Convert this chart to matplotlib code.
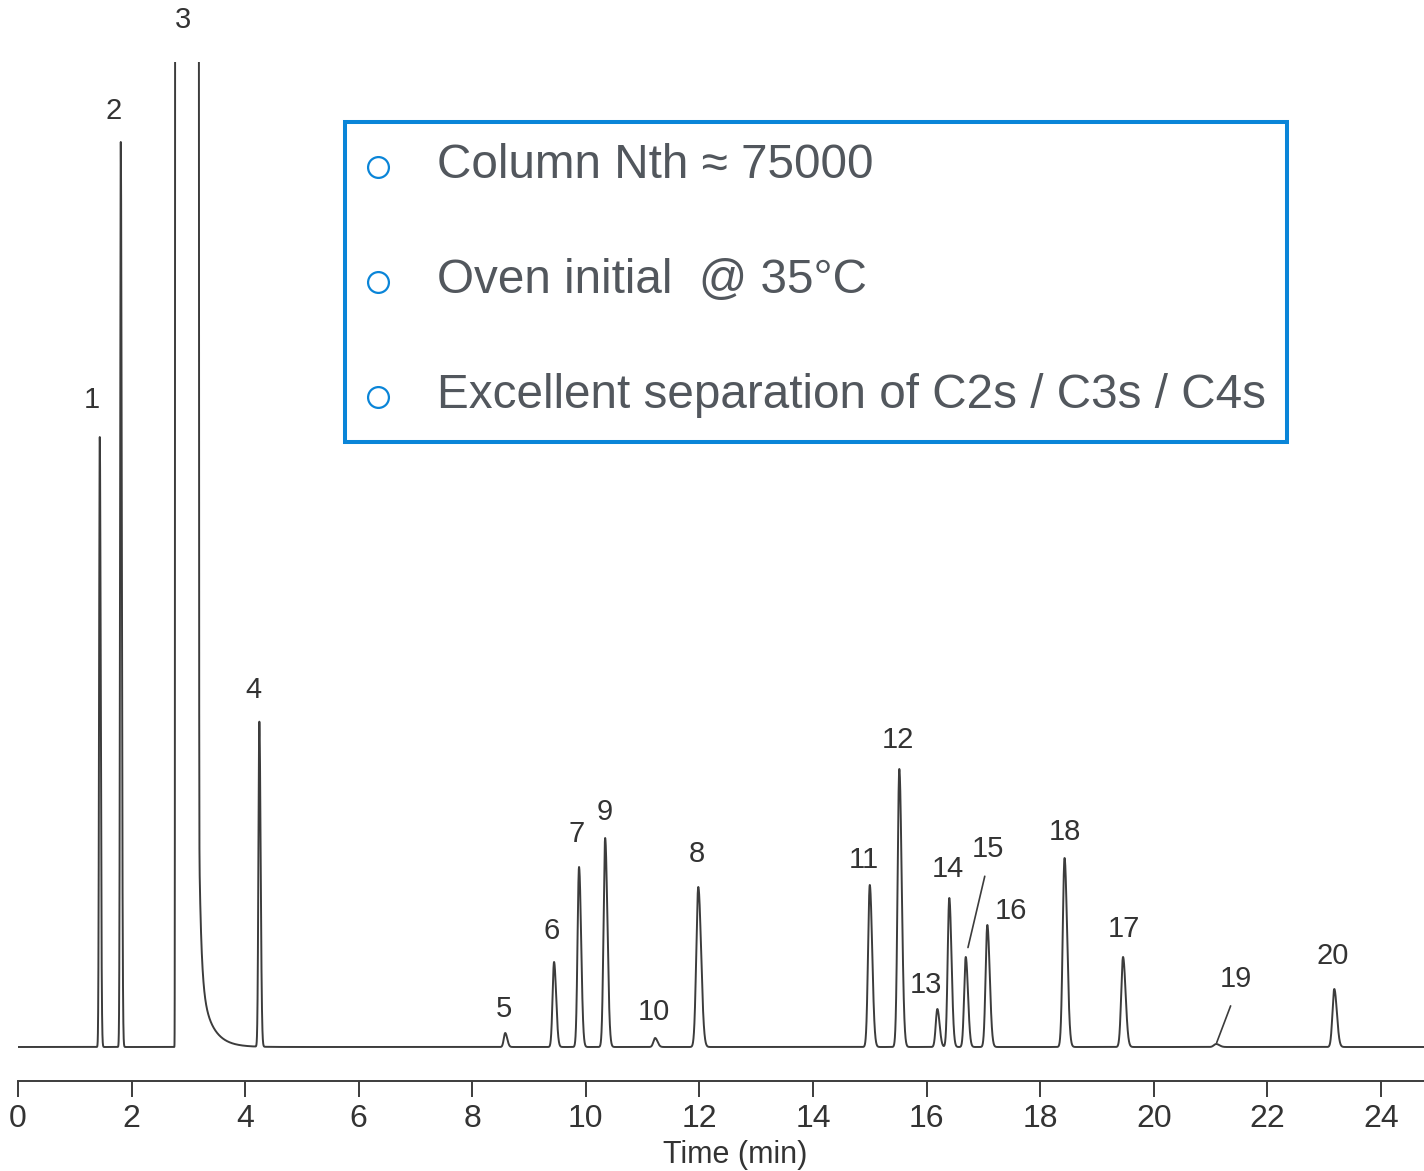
import numpy as np
import matplotlib.pyplot as plt
from matplotlib.patches import Rectangle
from matplotlib.lines import Line2D

plt.rcParams["font.family"] = ["Liberation Sans", "DejaVu Sans"]

# peaks (time in min, height in detector units)
peak_labels = ["1", "2", "4", "5", "6", "7", "9", "10", "8", "11",
               "12", "13", "14", "15", "16", "18", "17", "19", "20"]
peak_times = [1.44, 1.81, 4.25, 8.58, 9.44, 9.88, 10.34, 11.22, 11.98, 15.00,
              15.52, 16.19, 16.40, 16.69, 17.07, 18.43, 19.46, 21.10, 23.18]
peak_heights = [610, 905, 325, 14, 85, 180, 209, 9, 160, 162,
                278, 38, 149, 90, 122, 189, 90, 3, 58]
peak_sigmas = [0.012, 0.012, 0.016, 0.025, 0.026, 0.026, 0.028, 0.03, 0.035, 0.03,
               0.03, 0.028, 0.028, 0.028, 0.03, 0.032, 0.032, 0.04, 0.032]

# peak 3 saturates the detector, then tails off
solvent_label = "3"
solvent_start, solvent_end = 2.77, 3.18
solvent_level = 1500
tail_amps = [177, 72]
tail_taus = [0.038, 0.2]

box_lines = ["Column Nth \u2248 75000",
             "Oven initial  @ 35\u00b0C",
             "Excellent separation of C2s / C3s / C4s"]
time_ticks = list(range(0, 25, 2))

# label offsets from the apex, in points
label_offsets = [(-6, 27), (-5, 22), (-4, 23), (-1, 17), (-2, 22), (-2, 24), (0, 19),
                 (-1, 19), (-1, 24), (-4, 18), (-1, 21), (-8, 17), (-1, 21), (16, 78),
                 (17, 10), (0, 19), (1, 20), (14, 47), (-1, 24)]

LINE = "#3c3c3c"
TEXT = "#333333"
BLUE = "#0a85d8"


def peak_shape(t, t0, h, s, tail=1.4):
    left = h * np.exp(-0.5 * ((t - t0) / s) ** 2)
    right = h * np.exp(-0.5 * ((t - t0) / (s * tail)) ** 2)
    return np.where(t < t0, left, right)


t = np.linspace(0, 24.76, 40000)
signal = np.zeros_like(t)
for t0, h, s in zip(peak_times, peak_heights, peak_sigmas):
    signal += peak_shape(t, t0, h, s)

# saturated solvent peak with long tail
after = np.clip(t - solvent_end, 0, None)
tail = sum(a * np.exp(-after / tau) for a, tau in zip(tail_amps, tail_taus))
solvent = np.where(t < solvent_start,
                   solvent_level * np.exp(-0.5 * ((t - solvent_start) / 0.004) ** 2),
                   np.where(t <= solvent_end, solvent_level,
                            solvent_level * np.exp(-0.5 * (after / 0.005) ** 2) + tail))
signal += solvent

fig = plt.figure(figsize=(14.24, 11.71), dpi=100)
ax = fig.add_axes([18 / 1424, 90 / 1171, 1406 / 1424, 1019 / 1171])
ax.plot(t, signal, color=LINE, lw=1.4)
ax.set_xlim(0, 24.76)
ax.set_ylim(-34, 985)

for side in ["left", "right", "top"]:
    ax.spines[side].set_visible(False)
ax.spines["bottom"].set_linewidth(1.4)
ax.spines["bottom"].set_color(LINE)
ax.set_yticks([])
ax.set_xticks(time_ticks)
ax.tick_params(axis="x", direction="out", length=11.5, width=1.4, color=LINE,
               pad=5, labelsize=23, labelcolor=TEXT)
ax.set_xlabel("Time (min)", fontsize=22, color=TEXT)
ax.xaxis.set_label_coords(0.51, -0.058)

label_font = dict(fontsize=21, color=TEXT, ha="center", va="center")
for lab, t0, h, off in zip(peak_labels, peak_times, peak_heights, label_offsets):
    arrow = None
    if lab in ("15", "19"):
        arrow = dict(arrowstyle="-", color=LINE, lw=1.2, relpos=(0.5, 0),
                     shrinkA=8, shrinkB=7 if lab == "15" else 1)
    ax.annotate(lab, xy=(t0, h), xytext=off, textcoords="offset points",
                arrowprops=arrow, annotation_clip=False, **label_font)

ax.annotate(solvent_label, xy=((solvent_start + solvent_end) / 2, 985), xytext=(-3, 30),
            textcoords="offset points", annotation_clip=False, **label_font)

# info box
W, H = 1424, 1171
fig.add_artist(Rectangle((345 / W, 1 - 442 / H), 942 / W, 320 / H, transform=fig.transFigure,
                         fill=False, edgecolor=BLUE, lw=2.9))
for i, line in enumerate(box_lines):
    y_base = 178 + i * 115
    fig.add_artist(Line2D([378 / W], [1 - (y_base - 11) / H], transform=fig.transFigure,
                          marker="o", markersize=15, markerfacecolor="none",
                          markeredgecolor=BLUE, markeredgewidth=1.6))
    fig.text(437 / W, 1 - y_base / H, line, fontsize=34.3, color="#52575d",
             ha="left", va="baseline")

fig.savefig("out.png", dpi=100)
